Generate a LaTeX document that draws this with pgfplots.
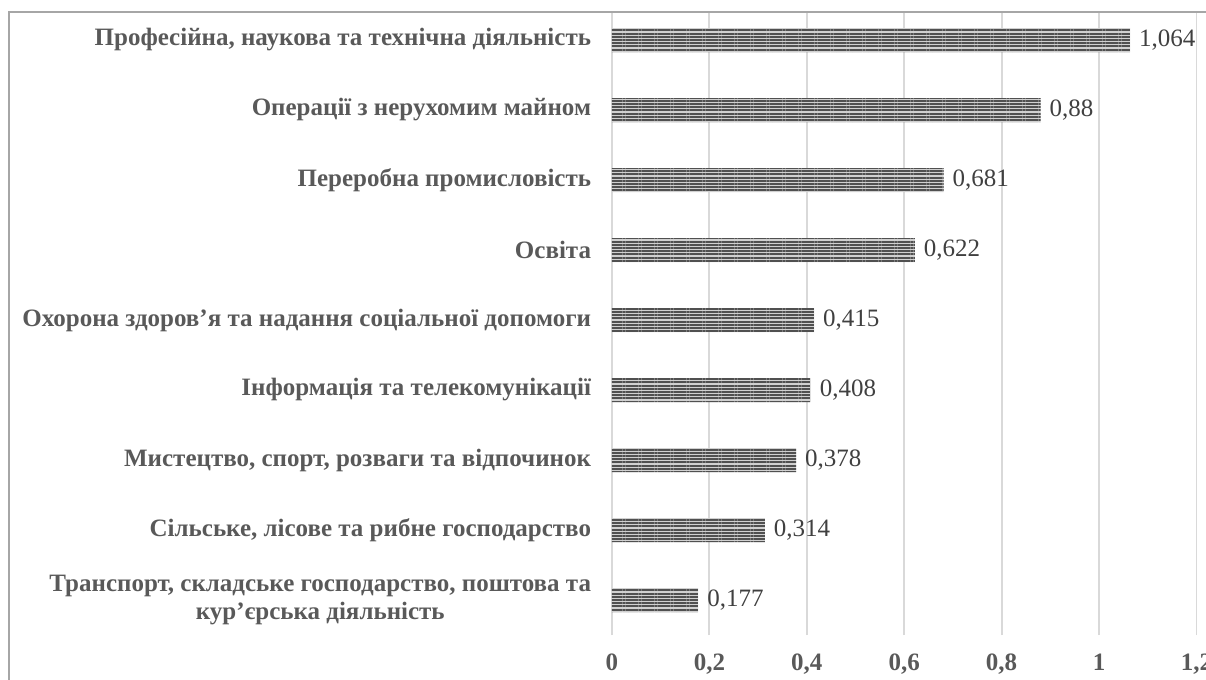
\documentclass[border=0pt]{standalone}
\usepackage{pgfplots}
\pgfplotsset{compat=1.18}
\usetikzlibrary{patterns.meta}
\usepackage{fontspec}
\setmainfont{Liberation Serif}
\definecolor{lblgray}{HTML}{595959}
\definecolor{valgray}{HTML}{404040}
\definecolor{framegray}{HTML}{A6A6A6}
\definecolor{gridgray}{HTML}{D9D9D9}
\definecolor{bardark}{HTML}{505050}
\definecolor{barlight}{HTML}{D0D0D0}
\begin{document}
\begin{tikzpicture}
\useasboundingbox (0,0) rectangle (603pt,-340pt);
\begin{axis}[
  at={(306pt,-317.5pt)}, anchor=south west,
  scale only axis,
  width=292.2pt, height=311.5pt,
  xbar, bar width=12pt,
  xmin=0, xmax=1.2, ymin=-0.5, ymax=8.4,
  xtick={0,0.2,0.4,0.6,0.8,1,1.2},
  ytick={0,...,8},
  yticklabels={{Транспорт, складське господарство, поштова та\\кур’єрська діяльність},
    {Сільське, лісове та рибне господарство},
    {Мистецтво, спорт, розваги та відпочинок},
    {Інформація та телекомунікації},
    {Охорона здоров’я та надання соціальної допомоги},
    {Освіта},
    {Переробна промисловість},
    {Операції з нерухомим майном},
    {Професійна, наукова та технічна діяльність}},
  /pgf/number format/assume math mode=true,
  /pgf/number format/use comma,
  /pgf/number format/precision=3,
  xmajorgrids, ymajorgrids=false,
  grid style={gridgray, line width=0.9pt},
  axis line style={draw=none},
  major tick style={draw=none},
  xticklabel style={font=\fontsize{12.5}{14}\selectfont\bfseries, text=lblgray, yshift=-6pt},
  yticklabel style={font=\fontsize{12.5}{14}\selectfont\bfseries, text=lblgray, align=center, anchor=east, inner sep=0pt, xshift=-6pt},
  nodes near coords,
  nodes near coords style={font=\fontsize{12.5}{14}\selectfont, text=valgray, anchor=west, xshift=1pt},
  clip=false,
]
\addplot[draw=none, fill=barlight,
  postaction={pattern={Lines[angle=0,distance=1.6pt,line width=0.95pt]}, pattern color=bardark}]
  coordinates {
  (0.177,0) (0.314,1) (0.378,2) (0.408,3) (0.415,4) (0.622,5) (0.681,6) (0.88,7) (1.064,8)
};
\end{axis}
\draw[framegray, line width=1pt] (4.5pt,-345pt) -- (4.5pt,-6pt) -- (610pt,-6pt);
\end{tikzpicture}
\end{document}
